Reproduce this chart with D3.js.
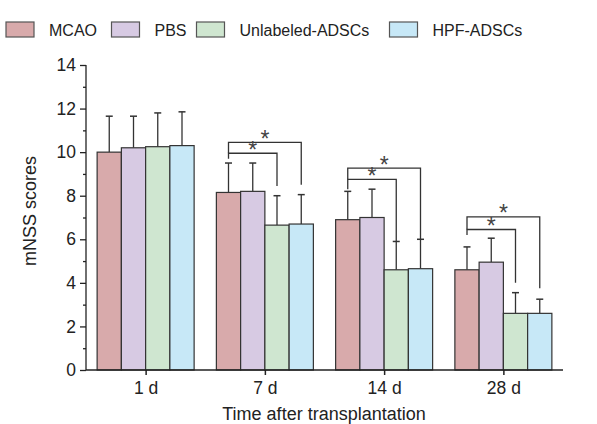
<!DOCTYPE html>
<html lang="en">
<head>
<meta charset="UTF-8"/>
<title>mNSS scores</title>
<style>
  body { margin: 0; background: #fff; }
  text { font-family: "Liberation Sans", Arial, sans-serif; fill: #222; }
</style>
<script src="https://d3js.org/d3.v7.min.js"></script>
</head>
<body>
<div id="chart"></div>
<script>
// data
var timepoints = ["1 d", "7 d", "14 d", "28 d"];
var groups = ["MCAO", "PBS", "Unlabeled-ADSCs", "HPF-ADSCs"];
var colours = ["#d8aaab", "#d7cae3", "#cfe6d0", "#c7e8f7"];
var means = [
  [10.0, 10.2, 10.25, 10.3],
  [8.15, 8.2, 6.65, 6.7],
  [6.9, 7.0, 4.6, 4.65],
  [4.6, 4.95, 2.6, 2.6]
];
var sds = [
  [1.65, 1.45, 1.55, 1.55],
  [1.35, 1.3, 1.35, 1.35],
  [1.3, 1.3, 1.3, 1.35],
  [1.05, 1.1, 0.95, 0.65]
];
var yTicks = [0, 2, 4, 6, 8, 10, 12, 14];
// significance brackets: time index, from group, to group, bracket level, right leg end, left leg end
var brackets = [
  {t: 1, a: 0, b: 3, level: 10.45, bottom: 8.5, top: 9.95},
  {t: 1, a: 0, b: 2, level: 9.95, bottom: 8.45, top: 9.7},
  {t: 2, a: 0, b: 3, level: 9.27, bottom: 6.0, top: 8.75},
  {t: 2, a: 0, b: 2, level: 8.75, bottom: 5.92, top: 8.3},
  {t: 3, a: 0, b: 3, level: 7.03, bottom: 3.75, top: 6.45},
  {t: 3, a: 0, b: 2, level: 6.45, bottom: 4.0, top: 6.2}
];

var w = 597, h = 424;
var svg = d3.select("#chart").append("svg")
  .attr("width", w).attr("height", h);

var x0 = d3.scaleBand().domain(d3.range(timepoints.length)).range([86, 563]);
var groupW = 97;
var x1 = d3.scaleBand().domain(d3.range(groups.length))
  .range([(x0.bandwidth() - groupW) / 2, (x0.bandwidth() + groupW) / 2]);
var y = d3.scaleLinear().domain([0, 14]).range([370, 65]);

// bars + error bars
timepoints.forEach(function(t, ti) {
  var g = svg.append("g").attr("transform", "translate(" + x0(ti) + ",0)");
  groups.forEach(function(name, gi) {
    var m = means[ti][gi], s = sds[ti][gi];
    var cx = x1(gi) + x1.bandwidth() / 2;
    g.append("line")
      .attr("x1", cx).attr("x2", cx)
      .attr("y1", y(m)).attr("y2", y(m + s))
      .attr("stroke", "#333").attr("stroke-width", 1.3);
    g.append("line")
      .attr("x1", cx - 3.5).attr("x2", cx + 3.5)
      .attr("y1", y(m + s)).attr("y2", y(m + s))
      .attr("stroke", "#333").attr("stroke-width", 1.5);
    g.append("rect")
      .attr("x", x1(gi)).attr("y", y(m))
      .attr("width", x1.bandwidth()).attr("height", y(0) - y(m))
      .attr("fill", colours[gi])
      .attr("stroke", "#333").attr("stroke-width", 1.2);
  });
});

// brackets
brackets.forEach(function(b) {
  var xa = x0(b.t) + x1(b.a) + x1.bandwidth() / 2;
  var xb = x0(b.t) + x1(b.b) + x1.bandwidth() / 2;
  svg.append("path")
    .attr("d", "M" + xa + "," + y(b.top) + "V" + y(b.level) + "H" + xb + "V" + y(b.bottom))
    .attr("fill", "none").attr("stroke", "#333").attr("stroke-width", 1.3);
  svg.append("text")
    .attr("x", (xa + xb) / 2).attr("y", y(b.level) + 4.5)
    .attr("text-anchor", "middle")
    .attr("font-size", 23)
    .style("fill", "#444")
    .text("*");
});

// y axis
var yAxis = d3.axisLeft(y).tickValues(yTicks).tickSize(6).tickPadding(4);
var ya = svg.append("g").attr("transform", "translate(86,0)").call(yAxis);
ya.selectAll("text").attr("font-size", 17.5).style("font-family", "Liberation Sans, Arial, sans-serif");
ya.selectAll("line, path").attr("stroke", "#222").attr("stroke-width", 1.3);
ya.select(".domain").attr("d", "M0,65V370");
svg.append("g").attr("transform", "translate(86,0)")
  .call(d3.axisLeft(y).tickValues(d3.range(1, 14, 2)).tickSize(3).tickFormat(""))
  .call(function(g) { g.select(".domain").remove(); })
  .selectAll("line").attr("stroke", "#222").attr("stroke-width", 1.3);

// x axis
var xAxis = d3.axisBottom(d3.scalePoint().domain(timepoints)
  .range([x0(0) + x0.bandwidth() / 2, x0(3) + x0.bandwidth() / 2]))
  .tickSize(5).tickPadding(7);
var xa = svg.append("g").attr("transform", "translate(0,370)").call(xAxis);
xa.select(".domain").attr("d", "M86,0H563");
xa.selectAll("text").attr("font-size", 17.5).style("font-family", "Liberation Sans, Arial, sans-serif");
xa.selectAll("line, path").attr("stroke", "#222").attr("stroke-width", 1.5);

// axis titles
svg.append("text")
  .attr("x", 324).attr("y", 420)
  .attr("text-anchor", "middle").attr("font-size", 18)
  .text("Time after transplantation");
svg.append("text")
  .attr("transform", "translate(36,211) rotate(-90)")
  .attr("text-anchor", "middle").attr("font-size", 18)
  .text("mNSS scores");

// legend
var legendX = [6, 111.5, 196.5, 389.5];
groups.forEach(function(name, gi) {
  svg.append("rect")
    .attr("x", legendX[gi]).attr("y", 22)
    .attr("width", 28).attr("height", 15)
    .attr("fill", colours[gi])
    .attr("stroke", "#555").attr("stroke-width", 1.2);
  svg.append("text")
    .attr("x", legendX[gi] + 43).attr("y", 35.5)
    .attr("font-size", 16)
    .text(name);
});
</script>
</body>
</html>
